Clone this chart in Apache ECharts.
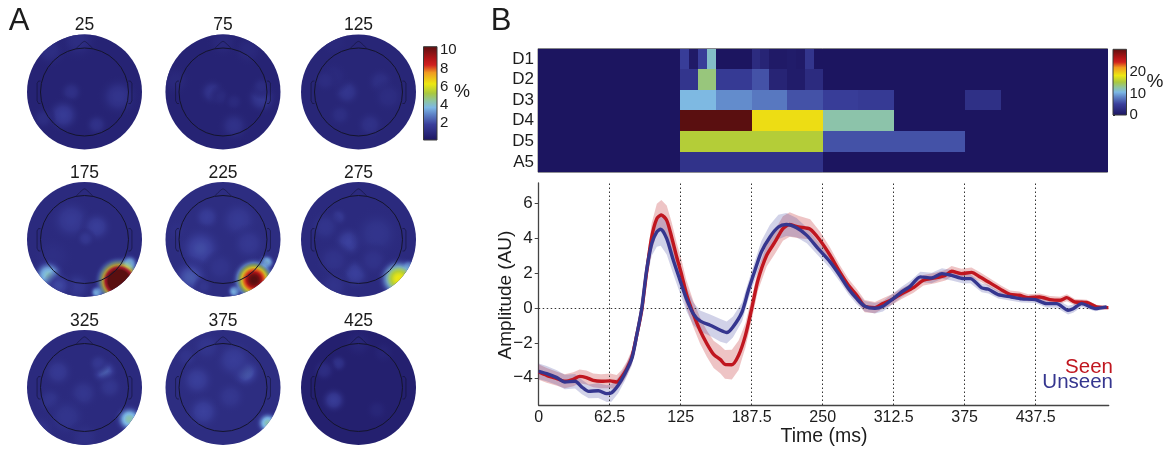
<!DOCTYPE html>
<html><head><meta charset="utf-8">
<style>html,body{margin:0;padding:0;background:#fff}#c{width:1168px;height:449px}</style>
<script src="https://cdn.jsdelivr.net/npm/echarts@6/dist/echarts.min.js"></script>
</head><body><div id="c"></div>
<script>
// ---- data ----
const topoTitles = ['25','75','125','175','225','275','325','375','425'];
const topoBase = [0.6,0.6,0.7,0.9,1.0,0.9,0.9,1.0,0.45];
// blobs: [x, y, radius, peak %] in head units
const topo25 = [[-0.6,0.73,0.22,1.3],[-0.11,0.9,0.25,1.3],[-0.23,0,0.15,1.5],[0.59,-0.08,0.25,1.8],[-0.37,-0.4,0.22,2.2],[0.21,-0.57,0.15,1.6],[-0.72,-0.46,0.15,1.3]];
const topo75 = [[-0.19,0,0.17,1.8],[-0.05,-0.08,0.13,1.1],[0.19,-0.17,0.12,1.1],[0.67,-0.11,0.2,2],[0.67,0.09,0.14,1.3],[0.19,-0.59,0.2,1.6],[0.44,0.73,0.2,1],[0,0.87,0.2,1],[-0.83,0.2,0.2,1]];
const topo125 = [[-0.2,0,0.18,1.8],[-0.43,0.27,0.2,1],[-0.58,0.2,0.15,1.2],[0.38,0.18,0.18,1.4],[0.52,-0.08,0.2,1.2],[-0.32,-0.4,0.15,1.3],[0.2,-0.57,0.18,1.5],[-0.43,0.87,0.2,0.9]];
const topo175 = [[-0.23,0.34,0.27,2],[0.21,0.22,0.2,2.2],[0.02,0.02,0.12,1.8],[-0.55,-0.3,0.25,1.2],[-0.14,-0.82,0.2,1.8],[-0.63,-0.62,0.33,4],[-0.45,-0.8,0.18,2.6],[0.22,-0.92,0.16,3.6],[0.78,-0.42,0.2,4],[0.6,-0.72,0.47,15]];
const topo225 = [[-0.28,0.39,0.17,2.1],[-0.39,-0.16,0.28,2.6],[0.27,0.34,0.25,1.9],[0.45,-0.07,0.22,1.8],[-0.05,-0.48,0.2,1.5],[-0.57,-0.66,0.24,3],[-0.34,-0.82,0.12,1.6],[-0.8,0.16,0.15,1.2],[0.2,-0.9,0.16,3.6],[0.76,-0.4,0.18,3.8],[0.54,-0.7,0.43,10.8]];
const topo275 = [[-0.35,0.39,0.12,1.9],[-0.58,0.22,0.2,1.6],[-0.17,-0.04,0.2,2.4],[0.32,0.1,0.3,1.6],[-0.06,-0.59,0.2,2.3],[-0.43,-0.36,0.22,1.5],[0.26,-0.36,0.2,1.5],[-0.43,-0.8,0.2,1.5],[0.87,-0.47,0.16,3.6],[0.7,-0.68,0.42,6.3]];
const topo325 = [[0.35,0.27,0.17,3.2],[0.24,0.42,0.13,1.8],[-0.46,0.27,0.2,1.9],[-0.02,-0.1,0.2,1.7],[0.44,0.01,0.17,1.7],[-0.6,-0.22,0.17,1.6],[-0.31,-0.51,0.25,1.6],[-0.78,-0.74,0.2,1.5],[0,-0.86,0.2,1.3],[0.78,-0.55,0.3,4.2]];
const topo375 = [[0.39,0.27,0.2,3.2],[0.19,0.48,0.25,2.1],[-0.45,0.13,0.22,2.2],[-0.34,-0.42,0.22,2.3],[-0.63,0.53,0.15,1.5],[-0.28,0.71,0.2,1.6],[0.13,-0.16,0.2,1.7],[0.78,-0.62,0.25,4.2]];
const topo425 = [[-0.43,-0.22,0.17,2.4],[-0.35,0.42,0.12,1.7],[-0.6,0.3,0.15,1.4],[0.32,-0.39,0.15,0.9],[0,0.77,0.2,0.9],[0.43,0.61,0.15,0.8]];
const topoBlobs = [topo25,topo75,topo125,topo175,topo225,topo275,topo325,topo375,topo425];

const scaleA = [0.17,10.37];
const scaleATicks = [2,4,6,8,10];
const scaleB = [0,30.6];
const scaleBTicks = [0,10,20];

const heatRows = ['D1','D2','D3','D4','D5','A5'];
const heatD1 = [0,0,0,0,0,0,0,0,0,0,0,0,0,0,0,0, 4.8,0.6,4.8,11.4,0,0,0,0,2.7,1.8,0.6,0.6,0.9,0.6,3.9,0, 0,0,0,0,0,0,0,0,0,0,0,0,0,0,0,0, 0,0,0,0,0,0,0,0,0,0,0,0,0,0,0,0];
const heatD2 = [0,0,0,0,0,0,0,0,3.9,13.5,4.5,4.5,6,1.8,0.9,2.7,0,0,0,0,0,0,0,0,0,0,0,0,0,0,0,0];
const heatD3 = [0,0,0,0,10.6,8.7,7.8,6,4.8,4.5,0,0,3.3,0,0,0];
const heatD4 = [0,0,30,18.5,12.3,0,0,0];
const heatD5 = [0,0,15.5,15.5,6,6,0,0];
const heatA5 = [0,0,3.6,3.6,0,0,0,0];
const heatCurves = [heatD1,heatD2,heatD3,heatD4,heatD5,heatA5];
const heatSpan = 500;

const timeTicks = [0,62.5,125,187.5,250,312.5,375,437.5];
const ampTicks = [-4,-2,0,2,4,6];
// [time ms, amplitude, band half-width]
const seenCurve = [[0,-3.67,.45],[7,-3.86,.42],[16,-4.05,.4],[23,-4.2,.4],[30.5,-4.09,.4],[36,-3.92,.4],[42,-3.99,.4],[48,-4.15,.4],[55,-4.2,.4],[63,-4.18,.42],[68.7,-4.24,.4],[73,-3.95,.4],[77.5,-3.48,.4],[82,-2.81,.4],[86,-1.66,.4],[90.7,-.13,.45],[95,2.06,.6],[99.5,4.07,.8],[104,5.12,.85],[108,5.33,.85],[112.7,5.02,.85],[117,4.07,.85],[121.5,2.92,.82],[126,1.87,.8],[130,.82,.78],[136,-.32,.75],[142,-1.28,.75],[148,-2.04,.75],[154,-2.66,.78],[160,-2.96,.8],[164,-3.23,.82],[170,-3.25,.85],[176,-2.71,.85],[182,-1.57,.7],[187.5,-.04,.65],[193,1.59,.6],[200.7,3.02,.65],[208,3.78,.68],[215,4.55,.7],[221,4.78,.7],[228.6,4.64,.65],[239,4.51,.58],[247.6,3.88,.5],[256.5,3.02,.45],[265,2.06,.4],[272.6,1.3,.38],[280,.73,.36],[287,.1,.35],[296,.02,.32],[303,.25,.3],[311,.48,.3],[319.5,.82,.3],[330,1.17,.3],[338.7,1.59,.3],[349,1.72,.3],[358,1.87,.3],[363.5,2.1,.3],[372,1.97,.28],[381,2.04,.28],[388.5,1.78,.26],[397,1.45,.25],[407,1.05,.24],[415,.78,.22],[423,.73,.21],[431,.59,.2],[441,.63,.2],[450,.48,.2],[459,.44,.2],[465,.59,.2],[472,.34,.18],[482.5,.32,.15],[491,.06,.12],[501.5,.02,.08]];
const unseenCurve = [[0,-3.63,.45],[7,-3.76,.44],[16,-3.99,.42],[23,-4.24,.42],[32,-4.2,.42],[38,-4.53,.42],[44,-4.78,.4],[52.5,-4.74,.42],[60,-4.91,.48],[64,-4.87,.5],[70,-4.43,.45],[76,-3.76,.4],[82,-2.9,.4],[86,-1.66,.4],[90.7,-.04,.42],[95,2.16,.55],[99.5,3.69,.7],[104,4.36,.85],[107.4,4.51,.95],[112.7,3.97,.9],[118.5,2.73,.8],[124.4,1.59,.75],[130,.53,.7],[136,-.32,.65],[142,-.74,.6],[151,-.99,.62],[160,-1.28,.65],[165.5,-1.41,.63],[171,-1.09,.6],[179,-.23,.55],[184.6,1.01,.5],[190.4,2.16,.55],[196,3.21,.62],[203.6,4.07,.7],[211,4.64,.7],[218,4.78,.66],[227,4.6,.55],[236,4.16,.45],[246,3.4,.4],[256.5,2.64,.37],[265,1.87,.35],[272.6,1.11,.33],[280,.53,.32],[287,.1,.3],[296,-.02,.3],[303,.1,.3],[311,.48,.3],[319.5,.92,.3],[327,1.24,.3],[336,1.78,.3],[346,1.72,.3],[355,1.97,.3],[363.5,1.87,.3],[374,1.68,.28],[380,1.68,.27],[390,1.15,.25],[396,1.07,.24],[404.5,.76,.22],[416,.63,.21],[425,.52,.2],[437,.48,.2],[447,.25,.22],[456,.25,.24],[466,-.13,.25],[470.5,-.04,.24],[478,.25,.2],[490,-.04,.15],[500,.06,.1]];

// ---- colour scale ----
const FONT = '"Liberation Sans", Arial, sans-serif';
const TXT = '#1c1c1c';
const ramp = [[0,'#1c1560'],[.17,'#3a3f9b'],[.28,'#5f85c8'],[.35,'#7db8e5'],[.42,'#8ec5a0'],[.5,'#a9c840'],[.6,'#ece812'],[.72,'#f09a20'],[.8,'#d0201f'],[.87,'#b01416'],[1,'#5a0f10']];
const hex = h => [1,3,5].map(i => parseInt(h.substr(i,2),16));
function jet(f, a){
  f = Math.max(0, Math.min(1, f));
  let i = 0; while (i < ramp.length-2 && f > ramp[i+1][0]) i++;
  const t = (f-ramp[i][0])/(ramp[i+1][0]-ramp[i][0]);
  const p = hex(ramp[i][1]), q = hex(ramp[i+1][1]);
  const c = p.map((v,k) => Math.round(v+(q[k]-v)*t));
  return 'rgba('+c[0]+','+c[1]+','+c[2]+','+(a===undefined?1:a)+')';
}
const rampGradient = () => new echarts.graphic.LinearGradient(0,1,0,0, ramp.map(r => ({offset:r[0], color:r[1]})));

// ---- layout ----
const R = 57.5;
const colX = [84.5,223,358.5];
const rowY = [92,239.5,387.5];
const titleY = [25,173,321];
const grids=[], xAxes=[], yAxes=[], series=[], graphics=[];
function text(t,x,y,size,o){
  const g={type:'text',x,y,silent:true,style:{text:t,font:size+'px '+FONT,fill:(o&&o.fill)||TXT,textAlign:(o&&o.align)||'center',textVerticalAlign:'middle'}};
  if(o&&o.rotation) g.rotation=o.rotation;
  graphics.push(g);
}
function addGrid(g,x,y){ grids.push(g); xAxes.push(Object.assign({gridIndex:grids.length-1},x)); yAxes.push(Object.assign({gridIndex:grids.length-1},y)); return grids.length-1; }

// ---- topographic maps ----
topoBlobs.forEach((blobs,i)=>{
  const cx = colX[i%3], cy = rowY[Math.floor(i/3)], base = topoBase[i];
  const g = addGrid({left:cx-R,top:cy-R,width:2*R,height:2*R},
    {type:'value',min:-1,max:1,show:false},{type:'value',min:-1,max:1,show:false});
  series.push({type:'custom',xAxisIndex:g,yAxisIndex:g,silent:true,clip:false,data:[[0,0,1,base]],
    renderItem:(p,api)=>{const c=api.coord([0,0]);
      return {type:'circle',shape:{cx:c[0],cy:c[1],r:p.coordSys.width/2},style:{fill:jet(api.value(3)/scaleA[1])}};}});
  series.push({type:'custom',xAxisIndex:g,yAxisIndex:g,silent:true,clip:false,data:blobs,
    renderItem:(p,api)=>{
      const c=api.coord([api.value(0),api.value(1)]);
      let r=api.size([api.value(2),0])[0], peak=api.value(3);
      if(peak<3.5){ r*=1.6; peak=base+(peak-base)*0.6; }   // faint patches spread wide
      const stops=[];
      for(let k=0;k<=10;k++){const s=k/10, e=(1-s*s)*(1-s*s), v=base+(peak-base)*e;
        stops.push({offset:s,color:jet(v/scaleA[1],Math.min(1,(1-s)/0.6))});}
      const ox=p.coordSys.x+p.coordSys.width/2, oy=p.coordSys.y+p.coordSys.height/2;
      return {type:'circle',shape:{cx:c[0],cy:c[1],r:r},
        style:{fill:{type:'radial',x:0.5,y:0.5,r:0.5,colorStops:stops}},
        clipPath:{type:'circle',shape:{cx:ox,cy:oy,r:p.coordSys.width/2}}};
    }});
  series.push({type:'custom',xAxisIndex:g,yAxisIndex:g,silent:true,clip:false,data:[[0,0,0.765]],
    renderItem:(p,api)=>{
      const c=api.coord([0,0]), r=api.size([api.value(2),0])[0];
      const pts=a=>a.map(q=>api.coord(q));
      const line={stroke:'#14142c',lineWidth:1,fill:null};
      const faint={stroke:'rgba(15,15,40,.65)',lineWidth:0.8,fill:null};
      return {type:'group',children:[
        {type:'polyline',shape:{points:pts([[-.14,.76],[-.06,.84],[0,.88],[.06,.84],[.14,.76]]),smooth:.3},style:faint},
        {type:'polyline',shape:{points:pts([[-.765,.19],[-.8,.19],[-.825,.15],[-.825,-.15],[-.8,-.2],[-.765,-.2]])},style:faint},
        {type:'polyline',shape:{points:pts([[.765,.19],[.8,.19],[.825,.15],[.825,-.15],[.8,-.2],[.765,-.2]])},style:faint},
        {type:'circle',shape:{cx:c[0],cy:c[1],r:r},style:line}
      ]};
    }});
  text(topoTitles[i],cx,titleY[Math.floor(i/3)],17.5);
});

// ---- colour bars ----
function colorbar(left,top,width,height,range,ticks,labelOpt){
  const g = addGrid({left,top,width,height},
    {type:'value',min:0,max:1,show:false},
    {type:'value',position:'right',min:range[0],max:range[1],
     axisLine:{show:false},splitLine:{show:false},
     axisTick:{show:true,length:2,inside:false,lineStyle:{color:'#222'},customValues:ticks},
     axisLabel:Object.assign({color:TXT,fontFamily:FONT,fontSize:15,customValues:ticks},labelOpt)});
  series.push({type:'custom',xAxisIndex:g,yAxisIndex:g,silent:true,clip:false,data:[[0,range[0],range[1]]],
    renderItem:(p,api)=>{const a=api.coord([0,api.value(2)]), b=api.coord([1,api.value(1)]);
      return {type:'rect',shape:{x:a[0],y:a[1],width:b[0]-a[0],height:b[1]-a[1]},
        style:{fill:rampGradient(),stroke:'#3a3a3a',lineWidth:1}};}});
}
colorbar(423.5,46.7,13.5,93.3,scaleA,scaleATicks,{margin:3});
colorbar(1113,49.3,13.5,65.7,scaleB,scaleBTicks,{margin:3});

// ---- time-frequency map ----
const hg = addGrid({left:538,top:48.7,width:569.5,height:123.5,show:true,borderColor:'#777',borderWidth:1,backgroundColor:'#1c1560'},
  {type:'value',min:0,max:heatSpan,show:false},
  {type:'category',inverse:true,data:heatRows,axisLine:{show:false},axisTick:{show:false},
   axisLabel:{interval:0,color:TXT,fontFamily:FONT,fontSize:17,margin:4}});
const heatData=[];
heatCurves.forEach((row,r)=>{
  const w=heatSpan/row.length; let b=0;
  while(b<row.length){ let e=b+1; while(e<row.length&&row[e]===row[b]) e++;
    heatData.push([b*w,e*w,r,row[b]]); b=e; }
});
series.push({type:'custom',xAxisIndex:hg,yAxisIndex:hg,silent:true,clip:false,data:heatData,
  encode:{x:[0,1],y:2},
  renderItem:(p,api)=>{
    const a=api.coord([api.value(0),api.value(2)]), b=api.coord([api.value(1),api.value(2)]);
    const h=api.size([0,1])[1], top=Math.round(a[1]-h/2), bot=Math.round(a[1]+h/2);
    const x0=Math.round(a[0]), x1=Math.round(b[0]);
    return {type:'rect',shape:{x:x0,y:top,width:x1-x0,height:bot-top},style:{fill:jet(api.value(3)/scaleB[1]*1.02)}};
  }});

// ---- amplitude traces ----
const lg = addGrid({left:538.7,top:183,width:570,height:222},
  {type:'value',min:0,max:501.8,
   axisLine:{show:true,onZero:false,lineStyle:{color:'#444',width:1.3}},splitLine:{show:false},
   axisTick:{show:false,customValues:timeTicks},
   axisLabel:{color:TXT,fontFamily:FONT,fontSize:16,margin:5,customValues:timeTicks,formatter:v=>String(v)}},
  {type:'value',min:-5.56,max:7.16,
   axisLine:{show:true,onZero:false,lineStyle:{color:'#444',width:1.3}},splitLine:{show:false},
   axisTick:{show:true,length:4,lineStyle:{color:'#444'},customValues:ampTicks},
   axisLabel:{color:TXT,fontFamily:FONT,fontSize:17,margin:6,customValues:ampTicks,formatter:v=>String(v).replace('-','\u2212')}});
function band(curve,color){
  series.push({type:'custom',xAxisIndex:lg,yAxisIndex:lg,silent:true,clip:true,data:curve,
    renderItem:(p,api)=>{
      if(p.dataIndex!==0) return;
      const up=curve.map(d=>api.coord([d[0],d[1]+d[2]]));
      const dn=curve.map(d=>api.coord([d[0],d[1]-d[2]])).reverse();
      return {type:'polygon',shape:{points:up.concat(dn)},style:{fill:color}};
    }});
}
band(seenCurve,'rgba(198,60,62,0.30)');
band(unseenCurve,'rgba(62,66,160,0.24)');
const dotted={color:'#333',type:[1.5,2.5],width:1};
series.push({type:'line',xAxisIndex:lg,yAxisIndex:lg,data:seenCurve.map(d=>[d[0],d[1]]),symbol:'none',silent:true,smooth:0.25,
  lineStyle:{color:'#c0161f',width:3.4},z:5,
  markLine:{silent:true,symbol:'none',label:{show:false},lineStyle:dotted,animation:false,
    data:[{yAxis:0}].concat(timeTicks.slice(1).map(t=>({xAxis:t})))}});
series.push({type:'line',xAxisIndex:lg,yAxisIndex:lg,data:unseenCurve.map(d=>[d[0],d[1]]),symbol:'none',silent:true,smooth:0.25,
  lineStyle:{color:'#35368f',width:3.4},z:6});

// ---- free text ----
text('A',19,21,31);
text('B',501,21,31);
text('%',462,92,18);
text('%',1155,82,19);
text('Time (ms)',824,437,19.5);
text('Amplitude (AU)',506,295,19,{rotation:Math.PI/2});
text('Seen',1113,367,20.5,{fill:'#c0161f',align:'right'});
text('Unseen',1113,382,20.5,{fill:'#35368f',align:'right'});

const chart = echarts.init(document.getElementById('c'),null,{renderer:'canvas',width:1168,height:449});
chart.setOption({animation:false,backgroundColor:'#fff',grid:grids,xAxis:xAxes,yAxis:yAxes,series,graphic:graphics});
</script></body></html>
